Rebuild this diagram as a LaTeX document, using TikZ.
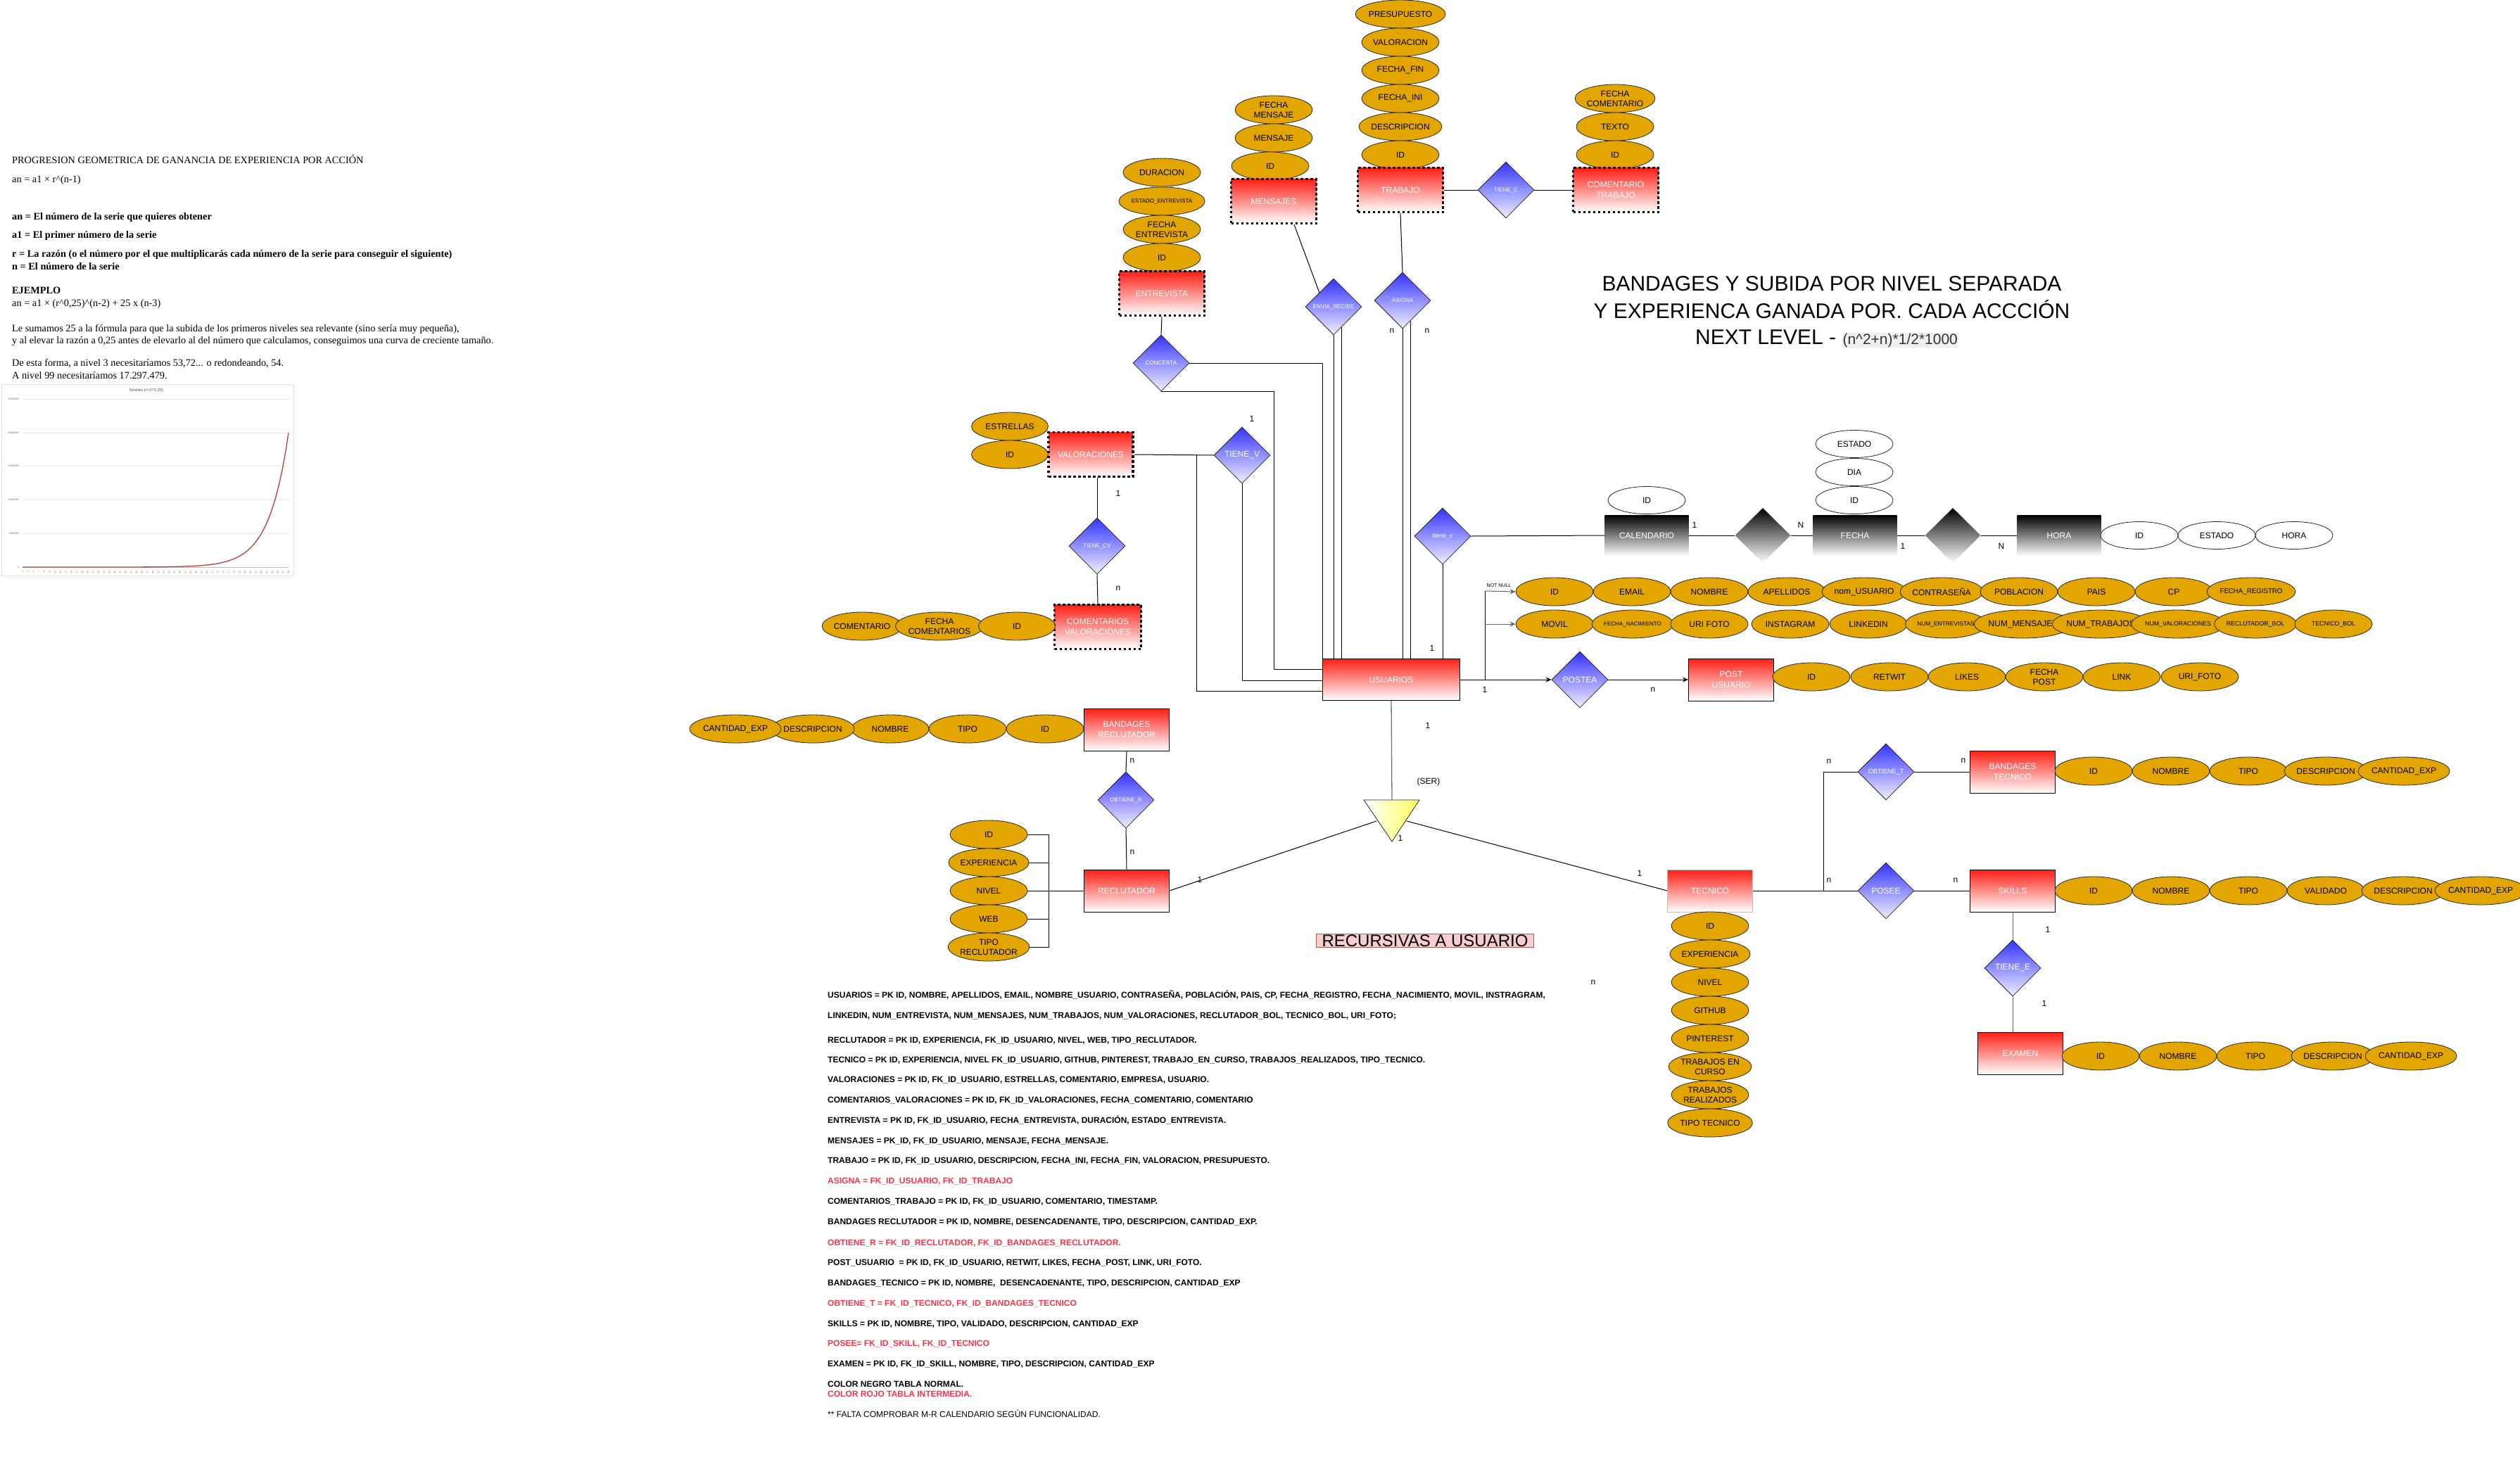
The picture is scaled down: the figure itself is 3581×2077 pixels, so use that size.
\documentclass[tikz,border=0pt]{standalone}
\usepackage{fontspec}
\setmainfont{Liberation Sans}
\newfontfamily\tms{Liberation Serif}
\usetikzlibrary{shapes.geometric,arrows.meta,calc}
\definecolor{attrc}{RGB}{227,165,0}
\definecolor{entr}{RGB}{255,30,20}
\definecolor{relb}{RGB}{51,51,255}
\definecolor{rell}{RGB}{240,240,255}
\definecolor{redt}{RGB}{255,51,71}
\definecolor{recfill}{RGB}{248,206,204}
\definecolor{recdraw}{RGB}{184,84,80}
\definecolor{curvec}{RGB}{192,60,60}
\definecolor{trival}{RGB}{255,255,90}
\newcommand\fsz[2]{\fontsize{#1}{#2}\selectfont}
\begin{document}
\begin{tikzpicture}[x=1pt,y=-1pt,
 attr/.style={ellipse, draw=black!85, line width=0.8pt, fill=attrc, minimum width=110pt, minimum height=40pt, inner sep=0pt, align=center, font=\fsz{12}{14}},
 wattr/.style={attr, fill=white},
 ent/.style={rectangle, draw=black, line width=1pt, top color=entr, bottom color=white, minimum width=121pt, minimum height=60pt, inner sep=0pt, text=white, align=center, font=\fsz{12}{15}},
 went/.style={ent, line width=3.5pt, dash pattern=on 3.5pt off 3.5pt, minimum height=63pt},
 bent/.style={rectangle, top color=black, bottom color=white, minimum width=119pt, minimum height=58pt, inner sep=0pt, text=white, font=\fsz{12}{14}},
 rel/.style={diamond, draw=black!85, line width=0.8pt, top color=relb, bottom color=rell, minimum width=80pt, minimum height=80pt, inner sep=0pt, text=white, font=\fsz{8}{10}},
 brel/.style={diamond, top color=black, bottom color=white, minimum width=79pt, minimum height=78pt, inner sep=0pt},
 lbl/.style={font=\fsz{12}{14}, inner sep=0pt},
 conn/.style={line width=1pt, draw=black},
 arr/.style={conn, -{Stealth[length=8pt,width=7pt]}},
 tl/.style={font=\tms\fsz{14.3}{17}, inner sep=0pt, anchor=base west},
 tlb/.style={tl, font=\tms\bfseries\fsz{14.3}{17}},
 bt/.style={font=\bfseries\fsz{12}{14}, inner sep=0pt, anchor=base west},
 btr/.style={bt, text=redt},
]
\fill[white] (0,0) rectangle (3581,2077);
\useasboundingbox (0,0) rectangle (3581,2077);

% ---------- top-left text ----------
\node[tl] (t1) at (17,232) {PROGRESION GEOMETRICA DE GANANCIA DE EXPERIENCIA POR ACCIÓN};
\node[tl] (t2) at (17,259) {an = a1 × r\textasciicircum(n-1)};
\node[tlb] (t3) at (17,312) {an = El número de la serie que quieres obtener};
\node[tlb] (t4) at (17,338) {a1 = El primer número de la serie};
\node[tlb] (t5) at (17,365) {r = La razón (o el número por el que multiplicarás cada número de la serie para conseguir el siguiente)};
\node[tlb] (t6) at (17,383) {n = El número de la serie};
\node[tlb] (t7) at (17,417) {EJEMPLO};
\node[tl] (t8) at (17,435) {an = a1 × (r\textasciicircum0,25)\textasciicircum(n-2) + 25 x (n-3)};
\node[tl] (t9) at (17,471) {Le sumamos 25 a la fórmula para que la subida de los primeros niveles sea relevante (sino sería muy pequeña),};
\node[tl] (t10) at (17,488) {y al elevar la razón a 0,25 antes de elevarlo al del número que calculamos, conseguimos una curva de creciente tamaño.};
\node[tl] (t11) at (17,520) {De esta forma, a nivel 3 necesitaríamos 53,72... o redondeando, 54.};
\node[tl] (t12) at (17,538) {A nivel 99 necesitaríamos 17.297.479.};

% ---------- chart ----------
\draw[draw=black!12, line width=0.8pt] (2,546) rectangle (417,818);
\foreach \yy in {567,615,662,710,758} \draw[black!10, line width=0.6pt] (32,\yy) -- (410,\yy);
\draw[black!25, line width=0.6pt] (32,806) -- (410,806);
\node[font=\fsz{6}{7}, text=black!65, inner sep=0pt] (ctitle) at (208,555) {Niveles (r=2\textasciicircum0,20)};
\foreach \v/\yy in {25000000/567,20000000/615,15000000/662,10000000/710,5000000/758,0/806}
  \node[font=\fsz{3.5}{4}, text=black!60, anchor=east, inner sep=0pt] (yl\v) at (27,\yy) {\v};
\foreach \n in {1,3,...,99}
  \node[font=\fsz{3.5}{4}, text=black!55, rotate=90, anchor=east, inner sep=0pt] (xl\n) at ({32+3.857*(\n-1)},811) {\n};
\draw[line width=1.3pt, curvec] plot[domain=1:99, samples=120] ({32+3.857*(\x-1)}, {806-190.8*exp(0.1386*(\x-99))});

% ---------- title ----------
\node[font=\fsz{30}{35}, anchor=base, inner sep=0pt] (title1) at (2603,413) {BANDAGES Y SUBIDA POR NIVEL SEPARADA};
\node[font=\fsz{30}{35}, anchor=base, inner sep=0pt] (title2) at (2603,452) {Y EXPERIENCA GANADA POR. CADA ACCCIÓN};
\node[font=\fsz{30}{35}, anchor=base, inner sep=0pt] (title3) at (2596,489) {NEXT LEVEL - {\setlength\fboxsep{1pt}\colorbox{black!6}{\fsz{21}{25}\textcolor{black!80}{(n\textasciicircum2+n)*1/2*1000}}}};

% ---------- ENTREVISTA ----------
\node[attr] (e_dur) at (1651,245) {DURACION};
\node[attr, font=\fsz{8}{10}] (e_est) at (1651,286) {ESTADO\_ENTREVISTA};
\node[attr] (e_fec) at (1651,326) {FECHA\\ENTREVISTA};
\node[attr] (e_id) at (1651,366) {ID};
\node[went] (entrevista) at (1651,417) {ENTREVISTA};
\node[rel] (concerta) at (1650,516) {CONCERTA};

% ---------- MENSAJES ----------
\node[attr] (m_fec) at (1810,156) {FECHA\\MENSAJE};
\node[attr] (m_men) at (1810,196) {MENSAJE};
\node[attr] (m_id) at (1805,236) {ID};
\node[went] (mensajes) at (1810,286) {MENSAJES};
\node[rel] (envia) at (1895,436) {ENVIA\_RECIBE};

% ---------- TRABAJO ----------
\node[attr] (t_pre) at (1990,20) {PRESUPUESTO};
\node[attr] (t_val) at (1990,60) {VALORACION};
\node[attr] (t_ffin) at (1990,100) {FECHA\_FIN};
\node[attr] (t_fini) at (1990,140) {FECHA\_INI};
\node[attr] (t_desc) at (1990,180) {DESCRIPCION};
\node[attr] (t_id) at (1990,220) {ID};
\node[went] (trabajo) at (1990,270) {TRABAJO};
\node[rel] (tienec) at (2140,270) {TIENE\_C};
\node[attr] (ct_fec) at (2295,140) {FECHA\\COMENTARIO};
\node[attr] (ct_txt) at (2295,180) {TEXTO};
\node[attr] (ct_id) at (2295,220) {ID};
\node[went] (comtrab) at (2296,270) {COMENTARIO\\TRABAJO};
\node[rel] (asigna) at (1993,427) {ASIGNA};

% ---------- VALORACIONES ----------
\node[attr, minimum width=109pt] (v_est) at (1435,606) {ESTRELLAS};
\node[attr, minimum width=109pt] (v_id) at (1435,646) {ID};
\node[went, minimum width=120pt] (valor) at (1550,646) {VALORACIONES};
\node[rel, font=\fsz{12}{14}] (tienev) at (1765,647) {TIENE\_V};
\node[rel] (tienecv) at (1559,776) {TIENE\_CV};
\node[went, minimum width=123pt] (comval) at (1560,891) {COMENTARIOS\\VALORACIONES};
\node[attr, minimum width=109pt] (cv_com) at (1225,890) {COMENTARIO};
\node[attr, minimum width=109pt] (cv_fec) at (1335,890) {FECHA\\COMENTARIOS};
\node[attr, minimum width=109pt] (cv_id) at (1445,890) {ID};

% ---------- USUARIOS ----------
\node[ent, minimum width=195pt, minimum height=59pt] (usuarios) at (1977,966) {USUARIOS};
\node[rel, font=\fsz{9}{11}] (tienec2) at (2050,762) {tiene\_c};

% ---------- CALENDARIO ----------
\node[bent] (calendario) at (2340,761) {CALENDARIO};
\node[wattr, minimum height=39pt] (c_id) at (2340,711) {ID};
\node[brel] (cd1) at (2505,761) {};
\node[bent] (fecha) at (2636,761) {FECHA};
\node[wattr, minimum height=39pt] (f_est) at (2635,631) {ESTADO};
\node[wattr, minimum height=39pt] (f_dia) at (2635,671) {DIA};
\node[wattr, minimum height=39pt] (f_id) at (2635,711) {ID};
\node[brel] (cd2) at (2775,761) {};
\node[bent] (hora) at (2926,761) {HORA};
\node[wattr, minimum height=39pt] (h_id) at (3040,761) {ID};
\node[wattr, minimum height=39pt] (h_est) at (3150,761) {ESTADO};
\node[wattr, minimum height=39pt] (h_hora) at (3260,761) {HORA};

% ---------- USUARIOS attributes ----------
\begin{scope}[every node/.append style={minimum height=39pt}]
\node[attr] (u_id) at (2209,841) {ID};
\node[attr] (u_email) at (2319,841) {EMAIL};
\node[attr] (u_nom) at (2429,841) {NOMBRE};
\node[attr] (u_ape) at (2539,841) {APELLIDOS};
\node[attr] (u_nus) at (2649,841) {nom\_USUARIO};
\node[attr] (u_con) at (2759,841) {CONTRASEÑA};
\node[attr] (u_pob) at (2869,841) {POBLACION};
\node[attr] (u_pais) at (2979,841) {PAIS};
\node[attr] (u_cp) at (3089,841) {CP};
\node[attr, font=\fsz{9.7}{11}] (u_freg) at (3199,841) {FECHA\_REGISTRO};
\node[attr] (u_mov) at (2209,887) {MOVIL};
\node[attr, font=\fsz{8}{10}] (u_fnac) at (2320,887) {FECHA\_NACIMIENTO};
\node[attr] (u_uri) at (2429,887) {URI FOTO};
\node[attr] (u_ins) at (2544,887) {INSTAGRAM};
\node[attr] (u_lin) at (2655,887) {LINKEDIN};
\node[attr, font=\fsz{8.4}{10}] (u_nent) at (2765,887) {NUM\_ENTREVISTAS};
\node[attr] (u_nmen) at (2875,887) {NUM\_MENSAJES};
\node[attr] (u_ntra) at (2985,887) {NUM\_TRABAJOS};
\node[attr, font=\fsz{8.8}{10}] (u_nval) at (3095,887) {NUM\_VALORACIONES};
\node[attr, font=\fsz{8.8}{10}] (u_rbol) at (3205,887) {RECLUTADOR\_BOL};
\node[attr, font=\fsz{8.8}{10}] (u_tbol) at (3316,887) {TECNICO\_BOL};
\end{scope}

% ---------- POST ----------
\node[rel, font=\fsz{12}{14}] (postea) at (2245,966) {POSTEA};
\node[ent] (post) at (2460,966) {POST\\USUARIO};
\node[attr] (p_id) at (2574,962) {ID};
\node[attr] (p_ret) at (2685,962) {RETWIT};
\node[attr] (p_lik) at (2795,962) {LIKES};
\node[attr] (p_fec) at (2905,962) {FECHA\\POST};
\node[attr] (p_lin) at (3015,962) {LINK};
\node[attr] (p_uri) at (3126,962) {URI\_FOTO};

% ---------- RECLUTADOR ----------
\node[ent] (bandrec) at (1601,1037) {BANDAGES\\RECLUTADOR};
\node[attr] (br_id) at (1485,1036) {ID};
\node[attr] (br_tip) at (1375,1036) {TIPO};
\node[attr] (br_nom) at (1265,1036) {NOMBRE};
\node[attr] (br_des) at (1155,1036) {DESCRIPCION};
\node[attr] (br_can) at (1045,1036) {CANTIDAD\_EXP};
\node[rel] (obtr) at (1600,1137) {OBTIENE\_R};
\node[ent] (reclutador) at (1601,1266) {RECLUTADOR};
\node[attr] (r_id) at (1405,1186) {ID};
\node[attr] (r_exp) at (1405,1226) {EXPERIENCIA};
\node[attr] (r_niv) at (1405,1266) {NIVEL};
\node[attr] (r_web) at (1405,1306) {WEB};
\node[attr] (r_tip) at (1405,1346) {TIPO\\RECLUTADOR};

% ---------- TECNICO ----------
\node[ent, draw=black!25] (tecnico) at (2430,1266) {TECNICO};
\node[attr] (tc_id) at (2430,1316) {ID};
\node[attr] (tc_exp) at (2430,1356) {EXPERIENCIA};
\node[attr] (tc_niv) at (2430,1396) {NIVEL};
\node[attr] (tc_git) at (2430,1436) {GITHUB};
\node[attr] (tc_pin) at (2430,1476) {PINTEREST};
\node[attr] (tc_tec) at (2430,1516) {TRABAJOS EN\\CURSO};
\node[attr] (tc_tre) at (2430,1556) {TRABAJOS\\REALIZADOS};
\node[attr] (tc_tip) at (2430,1596) {TIPO TECNICO};
\node[rel, font=\fsz{9}{11}] (obtt) at (2680,1097) {OBTIENE\_T};
\node[ent] (bandtec) at (2860,1097) {BANDAGES\\TECNICO};
\node[attr] (bt_id) at (2975,1096) {ID};
\node[attr] (bt_nom) at (3085,1096) {NOMBRE};
\node[attr] (bt_tip) at (3195,1096) {TIPO};
\node[attr] (bt_des) at (3305,1096) {DESCRIPCION};
\node[attr] (bt_can) at (3416,1096) {CANTIDAD\_EXP};
\node[rel, font=\fsz{12}{14}] (posee) at (2680,1266) {POSEE};
\node[ent] (skills) at (2860,1266) {SKILLS};
\node[attr] (s_id) at (2975,1266) {ID};
\node[attr] (s_nom) at (3085,1266) {NOMBRE};
\node[attr] (s_tip) at (3195,1266) {TIPO};
\node[attr] (s_val) at (3305,1266) {VALIDADO};
\node[attr] (s_des) at (3415,1266) {DESCRIPCION};
\node[attr] (s_can) at (3525,1266) {CANTIDAD\_EXP};
\node[rel, font=\fsz{12}{14}] (tienee) at (2860,1376) {TIENE\_E};
\node[ent] (examen) at (2871,1497) {EXAMEN};
\node[attr] (x_id) at (2985,1501) {ID};
\node[attr] (x_nom) at (3095,1501) {NOMBRE};
\node[attr] (x_tip) at (3205,1501) {TIPO};
\node[attr] (x_des) at (3315,1501) {DESCRIPCION};
\node[attr] (x_can) at (3426,1501) {CANTIDAD\_EXP};

% ---------- triangle ----------
\coordinate (triA) at (1938,1137);
\coordinate (triB) at (2017,1137);
\coordinate (triC) at (1978,1196);
\coordinate (triT) at (1978,1137);
\coordinate (triL) at (1956,1167);
\coordinate (triR) at (1999,1167);
\draw[draw=black!85, line width=0.8pt, left color=white, right color=trival] (triA) -- (triB) -- (triC) -- cycle;

% ---------- connectors ----------
\draw[conn] (entrevista.south) -- (concerta.north);
\draw[conn] (concerta.east) -| (usuarios.north west);
\coordinate (cj) at (1810,951);
\draw[conn] (concerta.south) -| (cj) -- (cj -| usuarios.west);
\draw[conn] ($(mensajes.south)+(29,0)$) -- (envia.north west);
\coordinate (env2) at ($(envia.south)+(11,-11)$);
\draw[conn] (envia.south) -- (envia.south |- usuarios.north);
\draw[conn] (env2) -- (env2 |- usuarios.north);
\draw[conn] (trabajo.south) -- (asigna.north);
\draw[conn] (trabajo.east) -- (tienec.west);
\draw[conn] (tienec.east) -- (comtrab.west);
\coordinate (asg2) at ($(asigna.south)+(11,-11)$);
\draw[conn] (asigna.south) -- (asigna.south |- usuarios.north);
\draw[conn] (asg2) -- (asg2 |- usuarios.north);
\draw[conn] (tienec2.south) -- (tienec2.south |- usuarios.north);
\draw[conn] (tienec2.east) -- (calendario.west);
\draw[conn] (calendario.east) -- (cd1.west);
\draw[conn] (cd1.east) -- (fecha.west);
\draw[conn] (fecha.east) -- (cd2.west);
\draw[conn] (cd2.east) -- (hora.west);
\draw[conn] (valor.east) -- (tienev.west);
\coordinate (vj) at (1700,646);
\coordinate (vj2) at (1700,982);
\draw[conn] (vj) -- (vj2) -- (vj2 -| usuarios.west);
\coordinate (tv2) at (1765,967);
\draw[conn] (tienev.south) -- (tv2) -- (tv2 -| usuarios.west);
\draw[conn] (tienecv.north |- valor.south) -- (tienecv.north);
\draw[conn] (tienecv.south) -- (comval.north);
\coordinate (uj) at (2110,966);
\coordinate (ua1) at (2110,840);
\coordinate (ua2) at (2110,887);
\draw[conn] (usuarios.east) -- (uj);
\draw[conn] (ua1) -- (uj);
\draw[arr, black!60] (ua1) -- (u_id.west);
\draw[arr, black!60] (ua2) -- (u_mov.west);
\draw[arr] (uj) -- (postea.west);
\draw[arr] (postea.east) -- (post.west);
\draw[line width=1.3pt, black!55] (usuarios.south) -- (triT);
\draw[conn] (triL) -- (reclutador.east);
\draw[conn] (triR) -- (tecnico.west);
\draw[conn] (bandrec.south) -- (obtr.north);
\draw[conn] (obtr.south) -- (reclutador.north);
\coordinate (rb1) at (1490,1186);
\coordinate (rb5) at (1490,1346);
\draw[conn] (r_id.east) -- (rb1) -- (rb5) -- (r_tip.east);
\draw[conn] (r_exp.east) -- (r_exp.east -| rb1);
\draw[conn] (r_web.east) -- (r_web.east -| rb1);
\draw[conn] (r_niv.east) -- (reclutador.west);
\coordinate (tj) at (2591,1266);
\draw[conn] (tecnico.east) -- (tj) -- (posee.west);
\draw[conn] (tj) |- (obtt.west);
\draw[conn] (obtt.east) -- (bandtec.west);
\draw[conn] (posee.east) -- (skills.west);
\draw[conn, black!60] (skills.south) -- (tienee.north);
\draw[conn, black!60] (tienee.south) -- (tienee.south |- examen.north);

% ---------- cardinality labels ----------
\node[lbl] (l01) at (1779,595) {1};
\node[lbl] (l02) at (1589,701) {1};
\node[lbl] (l03) at (1589,836) {n};
\node[lbl] (l04) at (1978,470) {n};
\node[lbl] (l05) at (2028,470) {n};
\node[lbl] (l06) at (2035,921) {1};
\node[lbl] (l07) at (2408,746) {1};
\node[lbl] (l08) at (2559,746) {N};
\node[lbl] (l09) at (2704,776) {1};
\node[lbl] (l10) at (2844,776) {N};
\node[font=\fsz{7}{8}, inner sep=0pt] (notnull) at (2130,832) {NOT NULL};
\node[lbl] (l11) at (2110,980) {1};
\node[lbl] (l12) at (2349,980) {n};
\node[lbl] (l13) at (2029,1031) {1};
\node[lbl] (ser) at (2030,1111) {(SER)};
\node[lbl] (l14) at (1990,1191) {1};
\node[lbl] (l15) at (1705,1250) {1};
\node[lbl] (l16) at (2330,1241) {1};
\node[lbl] (l17) at (1609,1081) {n};
\node[lbl] (l18) at (1609,1211) {n};
\node[lbl] (l19) at (2599,1082) {n};
\node[lbl] (l20) at (2790,1081) {n};
\node[lbl] (l21) at (2599,1251) {n};
\node[lbl] (l22) at (2779,1251) {n};
\node[lbl] (l23) at (2910,1321) {1};
\node[lbl] (l24) at (2905,1426) {1};
\node[lbl] (l25) at (2264,1396) {n};

% ---------- RECURSIVAS ----------
\node[draw=recdraw, fill=recfill, line width=0.8pt, minimum width=309pt, minimum height=19pt, inner sep=0pt] (recbox) at (2025,1337) {};
\node[font=\fsz{24}{26}, inner sep=0pt] (rectext) at (2025,1337) {RECURSIVAS A USUARIO};

% ---------- bottom text ----------
\node[bt] (b01) at (1176,1418) {USUARIOS = PK ID, NOMBRE, APELLIDOS, EMAIL, NOMBRE\_USUARIO, CONTRASEÑA, POBLACIÓN, PAIS, CP, FECHA\_REGISTRO, FECHA\_NACIMIENTO, MOVIL, INSTRAGRAM,};
\node[bt] (b02) at (1176,1447) {LINKEDIN, NUM\_ENTREVISTA, NUM\_MENSAJES, NUM\_TRABAJOS, NUM\_VALORACIONES, RECLUTADOR\_BOL, TECNICO\_BOL, URI\_FOTO;};
\node[bt] (b03) at (1176,1482) {RECLUTADOR = PK ID, EXPERIENCIA, FK\_ID\_USUARIO, NIVEL, WEB, TIPO\_RECLUTADOR.};
\node[bt] (b04) at (1176,1510) {TECNICO = PK ID, EXPERIENCIA, NIVEL FK\_ID\_USUARIO, GITHUB, PINTEREST, TRABAJO\_EN\_CURSO, TRABAJOS\_REALIZADOS, TIPO\_TECNICO.};
\node[bt] (b05) at (1176,1538) {VALORACIONES = PK ID, FK\_ID\_USUARIO, ESTRELLAS, COMENTARIO, EMPRESA, USUARIO.};
\node[bt] (b06) at (1176,1567) {COMENTARIOS\_VALORACIONES = PK ID, FK\_ID\_VALORACIONES, FECHA\_COMENTARIO, COMENTARIO};
\node[bt] (b07) at (1176,1596) {ENTREVISTA = PK ID, FK\_ID\_USUARIO, FECHA\_ENTREVISTA, DURACIÓN, ESTADO\_ENTREVISTA.};
\node[bt] (b08) at (1176,1625) {MENSAJES = PK\_ID, FK\_ID\_USUARIO, MENSAJE, FECHA\_MENSAJE.};
\node[bt] (b09) at (1176,1653) {TRABAJO = PK ID, FK\_ID\_USUARIO, DESCRIPCION, FECHA\_INI, FECHA\_FIN, VALORACION, PRESUPUESTO.};
\node[btr] (b10) at (1176,1682) {ASIGNA = FK\_ID\_USUARIO, FK\_ID\_TRABAJO};
\node[bt] (b11) at (1176,1711) {COMENTARIOS\_TRABAJO = PK ID, FK\_ID\_USUARIO, COMENTARIO, TIMESTAMP.};
\node[bt] (b12) at (1176,1740) {BANDAGES RECLUTADOR = PK ID, NOMBRE, DESENCADENANTE, TIPO, DESCRIPCION, CANTIDAD\_EXP.};
\node[btr] (b13) at (1176,1770) {OBTIENE\_R = FK\_ID\_RECLUTADOR, FK\_ID\_BANDAGES\_RECLUTADOR.};
\node[bt] (b14) at (1176,1798) {POST\_USUARIO \ = PK ID, FK\_ID\_USUARIO, RETWIT, LIKES, FECHA\_POST, LINK, URI\_FOTO.};
\node[bt] (b15) at (1176,1827) {BANDAGES\_TECNICO = PK ID, NOMBRE, \ DESENCADENANTE, TIPO, DESCRIPCION, CANTIDAD\_EXP};
\node[btr] (b16) at (1176,1856) {OBTIENE\_T = FK\_ID\_TECNICO, FK\_ID\_BANDAGES\_TECNICO};
\node[bt] (b17) at (1176,1885) {SKILLS = PK ID, NOMBRE, TIPO, VALIDADO, DESCRIPCION, CANTIDAD\_EXP};
\node[btr] (b18) at (1176,1913) {POSEE= FK\_ID\_SKILL, FK\_ID\_TECNICO};
\node[bt] (b19) at (1176,1942) {EXAMEN = PK ID, FK\_ID\_SKILL, NOMBRE, TIPO, DESCRIPCION, CANTIDAD\_EXP};
\node[bt] (b20) at (1176,1971) {COLOR NEGRO TABLA NORMAL.};
\node[btr] (b21) at (1176,1985) {COLOR ROJO TABLA INTERMEDIA.};
\node[font=\fsz{12}{14}, inner sep=0pt, anchor=base west] (b22) at (1176,2014) {** FALTA COMPROBAR M-R CALENDARIO SEGÚN FUNCIONALIDAD.};
\end{tikzpicture}
\end{document}
